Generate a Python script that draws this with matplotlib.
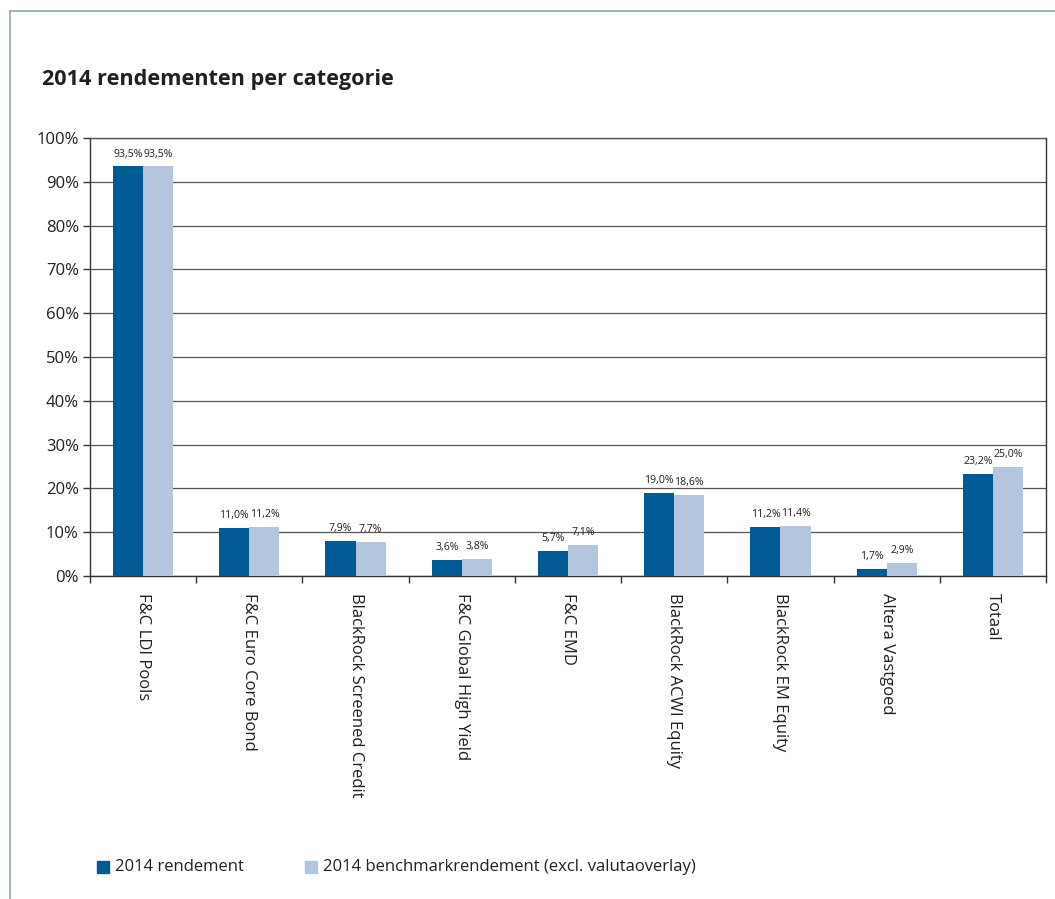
import matplotlib
matplotlib.use("Agg")
import matplotlib.pyplot as plt
from matplotlib.lines import Line2D
from matplotlib.patches import Rectangle
import numpy as np

plt.rcParams['font.family'] = ['Open Sans', 'DejaVu Sans']

categories = ["F&C LDI Pools", "F&C Euro Core Bond", "BlackRock Screened Credit",
              "F&C Global High Yield", "F&C EMD", "BlackRock ACWI Equity",
              "BlackRock EM Equity", "Altera Vastgoed", "Totaal"]
rendement = [93.5, 11.0, 7.9, 3.6, 5.7, 19.0, 11.2, 1.7, 23.2]
benchmark = [93.5, 11.2, 7.7, 3.8, 7.1, 18.6, 11.4, 2.9, 25.0]
series_names = ["2014 rendement", "2014 benchmarkrendement (excl. valutaoverlay)"]
yticks = list(range(0, 101, 10))

c_dark = "#005A94"
c_light = "#B4C5DE"
txt = "#231F20"

W, H = 1055, 899
fig = plt.figure(figsize=(W / 100, H / 100), dpi=100)
ax = fig.add_axes([90 / W, 1 - 576 / H, (1046 - 90) / W, (576 - 138) / H])

x = np.arange(len(categories))
bw = 0.283
b1 = ax.bar(x - bw / 2, rendement, bw, color=c_dark, zorder=3)
b2 = ax.bar(x + bw / 2, benchmark, bw, color=c_light, zorder=3)

def lab(v):
    return f"{v:.1f}%".replace(".", ",")

for bars, vals in ((b1, rendement), (b2, benchmark)):
    for r, v in zip(bars, vals):
        ax.annotate(lab(v), (r.get_x() + r.get_width() / 2, v), xytext=(0, 5),
                    textcoords="offset points", ha="center", va="bottom",
                    fontsize=7.6, color=txt)

ax.set_xlim(-0.5, len(categories) - 0.5)
ax.set_ylim(0, 100)
ax.set_yticks(yticks)
ax.set_yticklabels([f"{t}%" for t in yticks], fontsize=12, color=txt)
ax.yaxis.grid(True, color="#555555", linewidth=0.9, zorder=0)
ax.tick_params(axis="y", direction="out", length=5, width=1, color="#333333", pad=3)

ax.set_xticks(x)
ax.set_xticklabels(categories, rotation=-90, fontsize=12, color=txt, ha="center", va="top")
ax.tick_params(axis="x", length=0, pad=12)
ax.set_xticks(np.arange(len(categories) + 1) - 0.5, minor=True)
ax.tick_params(axis="x", which="minor", direction="out", length=5, width=1, color="#333333")

for s in ax.spines.values():
    s.set_color("#333333")
    s.set_linewidth(1)
ax.spines["top"].set_color("#555555")

fig.text(42 / W, 1 - 80 / H, "2014 rendementen per categorie", fontsize=15.6,
         fontweight="bold", color=txt, ha="left", va="center")

# frame lines
fc = "#8FAAAA"
fig.add_artist(Line2D([10 / W, 10 / W], [1 - 11 / H, 0], transform=fig.transFigure, color=fc, lw=1.2))
fig.add_artist(Line2D([10 / W, 1], [1 - 11 / H, 1 - 11 / H], transform=fig.transFigure, color=fc, lw=1.2))

# legend
ly = 1 - 867 / H
sq = 12
for xs, xt, col, name in ((97, 115, c_dark, series_names[0]), (305, 323, c_light, series_names[1])):
    fig.add_artist(Rectangle((xs / W, ly - sq / 2 / H), sq / W, sq / H, transform=fig.transFigure,
                             color=col))
    fig.text(xt / W, ly, name, fontsize=12, color=txt, ha="left", va="center")

fig.savefig("out.png", dpi=100)
